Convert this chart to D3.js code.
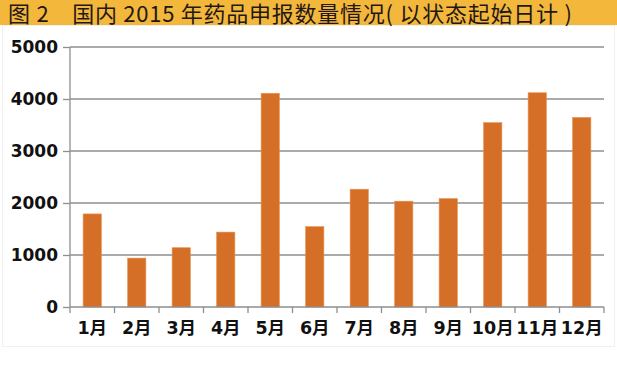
<!DOCTYPE html>
<meta charset='utf-8'>
<body style='margin:0;background:#fff'>
<script src='https://d3js.org/d3.v7.min.js'></script>
<script>
  const months = ['1月', '2月', '3月', '4月', '5月', '6月', '7月', '8月', '9月', '10月', '11月', '12月'];
  const counts = [1790, 940, 1140, 1440, 4110, 1545, 2265, 2035, 2085, 3545, 4120, 3645];
  const yTicks = [0, 1000, 2000, 3000, 4000, 5000];
  const title = '图 2　国内 2015 年药品申报数量情况( 以状态起始日计 )';

  const W = 617, H = 365;
  const margin = { top: 47, right: 13, bottom: 58, left: 70 };
  const width = W - margin.left - margin.right;
  const height = 307 - margin.top;

  const font = '"Noto Sans CJK SC", "Noto Sans", sans-serif';
  const labelFont = '"DejaVu Sans", "Noto Sans CJK SC", sans-serif';

  const svg = d3.select('body').append('svg')
    .attr('width', W)
    .attr('height', H)
    .style('display', 'block');

  // faint frame of the figure
  svg.append('rect')
    .attr('x', 2.5).attr('y', 25.5)
    .attr('width', W - 5).attr('height', 321)
    .attr('fill', 'none')
    .attr('stroke', '#f0f0f0');

  // title band
  svg.append('rect')
    .attr('x', 0).attr('y', 0)
    .attr('width', W).attr('height', 25)
    .attr('fill', '#f3b73c');

  svg.append('text')
    .attr('x', 8).attr('y', 21.5)
    .style('font-family', font)
    .style('font-size', '22px')
    .style('letter-spacing', '0.75px')
    .attr('fill', '#231815')
    .attr('xml:space', 'preserve')
    .text(title);

  const g = svg.append('g')
    .attr('transform', `translate(${margin.left}, ${margin.top})`);

  const x = d3.scaleBand()
    .domain(months)
    .range([0, width])
    .paddingInner(0.59)
    .paddingOuter(0.295);

  const y = d3.scaleLinear()
    .domain([0, 5000])
    .range([height, 0]);

  // gridlines
  g.append('g')
    .selectAll('line')
    .data(yTicks.filter(d => d > 0))
    .join('line')
    .attr('x1', 0)
    .attr('x2', width)
    .attr('y1', d => y(d))
    .attr('y2', d => y(d))
    .attr('stroke', '#8e8e8e')
    .attr('stroke-width', 1.3);

  // bars
  g.append('g')
    .selectAll('rect')
    .data(counts)
    .join('rect')
    .attr('x', (d, i) => x(months[i]))
    .attr('y', d => y(d))
    .attr('width', x.bandwidth())
    .attr('height', d => height - y(d))
    .attr('fill', '#d56f28')
    .attr('stroke', '#e8904a')
    .attr('stroke-width', 0.6);

  // y axis
  const yAxis = g.append('g')
    .call(d3.axisLeft(y).tickValues(yTicks).tickSize(7).tickPadding(5).tickFormat(d3.format('d')));

  // x axis with ticks at band edges
  const xAxis = g.append('g')
    .attr('transform', `translate(0, ${height})`)
    .call(d3.axisBottom(x).tickSize(0).tickPadding(15));

  const edges = d3.range(months.length + 1).map(i => i * x.step());
  xAxis.selectAll('.edge')
    .data(edges)
    .join('line')
    .attr('class', 'edge')
    .attr('x1', d => d).attr('x2', d => d)
    .attr('y1', 0).attr('y2', 6)
    .attr('stroke', '#8e8e8e')
    .attr('stroke-width', 1.3);

  [yAxis, xAxis].forEach(a => {
    a.select('.domain')
      .attr('stroke', '#8e8e8e')
      .attr('stroke-width', 1.3);
    a.selectAll('.tick line')
      .attr('stroke', '#8e8e8e')
      .attr('stroke-width', 1.3);
    a.selectAll('text')
      .style('font-family', labelFont)
      .style('font-weight', 'bold')
      .style('font-size', '17px')
      .attr('fill', '#111');
  });

  xAxis.selectAll('text').style('font-size', '17.5px');
  xAxis.select('.domain').attr('d', `M0,0H${width}`);
  yAxis.select('.domain').attr('d', `M0,${height}V0`);
</script>
</body>
